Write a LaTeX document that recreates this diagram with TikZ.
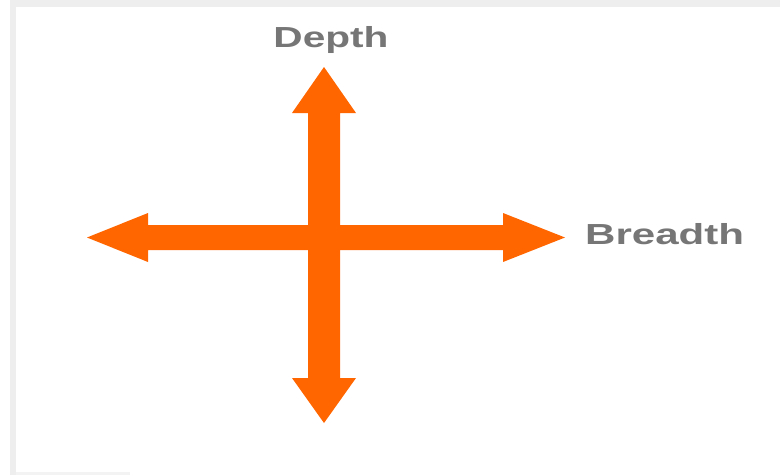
\documentclass[tikz,border=0pt]{standalone}
\usepackage{fontspec}
\setmainfont{Liberation Sans}
\definecolor{arroworange}{HTML}{FF6600}
\definecolor{labelgray}{HTML}{767676}
\definecolor{framegray}{HTML}{EEEEEE}
\tikzset{
  arrowshape/.style={fill=arroworange, draw=none},
  axislabel/.style={text=labelgray, font=\bfseries\fontsize{29}{29}\selectfont, inner sep=0pt}
}
\begin{document}
\begin{tikzpicture}[x=1pt,y=-1pt]
\useasboundingbox (0,0) rectangle (780,475);
\fill[white] (0,0) rectangle (780,475);
\fill[framegray] (10,0) rectangle (780,7);
\fill[framegray] (10,0) rectangle (16,475);
\fill[framegray!70] (16,472) rectangle (130,475);
% horizontal double arrow
\fill[arrowshape] (87,237.5) -- (148,213) -- (148,225) -- (503,225) -- (503,213)
  -- (565,237.5) -- (503,262) -- (503,250) -- (148,250) -- (148,262) -- cycle;
% vertical double arrow
\fill[arrowshape] (324,67) -- (356,113) -- (340,113) -- (340,378) -- (356,378)
  -- (324,423) -- (292,378) -- (308,378) -- (308,113) -- (292,113) -- cycle;
\node[axislabel, anchor=base] (depth) at (331,47) {\scalebox{1.4}[1]{Depth}};
\node[axislabel, anchor=base west] (breadth) at (585,244) {\scalebox{1.45}[1]{Breadth}};
\end{tikzpicture}
\end{document}
